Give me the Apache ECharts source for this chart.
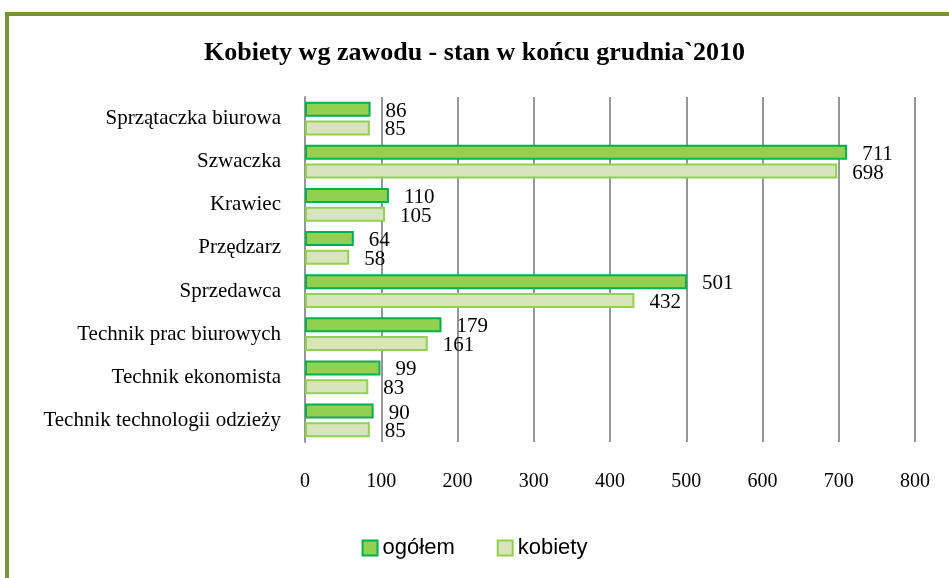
<!DOCTYPE html>
<html>
<head>
<meta charset="utf-8">
<script src="https://cdn.jsdelivr.net/npm/echarts@6/dist/echarts.min.js"></script>
<style>
  html, body { margin: 0; padding: 0; background: #fff; }
  #chart { width: 949px; height: 578px; }
</style>
</head>
<body>
<div id="chart"></div>
<script>
// zawody (kolejność od góry)
var categories = ['Sprzątaczka biurowa', 'Szwaczka', 'Krawiec', 'Przędzarz', 'Sprzedawca',
                  'Technik prac biurowych', 'Technik ekonomista', 'Technik technologii odzieży'];
var ogolem  = [86, 711, 110, 64, 501, 179, 99, 90];
var kobiety = [85, 698, 105, 58, 432, 161, 83, 85];
var xTicks  = [0, 800, 100]; // min, max, krok

var serif = 'Liberation Serif';
var chart = echarts.init(document.getElementById('chart'));

var labelCfg = {
    show: true,
    position: 'right',
    distance: 15,
    offset: [0, 2],
    color: '#000',
    fontFamily: serif,
    fontSize: 21
};

chart.setOption({
    animation: false,
    title: {
        text: 'Kobiety wg zawodu - stan w końcu grudnia`2010',
        left: 'center',
        top: 35,
        textStyle: { fontFamily: serif, fontSize: 26, fontWeight: 'bold', color: '#000' }
    },
    legend: {
        bottom: 14,
        left: 'center',
        icon: 'rect',
        itemWidth: 15,
        itemHeight: 15,
        itemGap: 42,
        textStyle: { fontFamily: 'Liberation Sans', fontSize: 22, color: '#000' },
        data: ['ogółem', 'kobiety']
    },
    grid: { left: 305, right: 34, top: 97, bottom: 136, containLabel: false },
    xAxis: {
        type: 'value',
        min: xTicks[0],
        max: xTicks[1],
        interval: xTicks[2],
        axisLine: { show: false },
        axisTick: { show: false },
        axisLabel: { margin: 30, color: '#000', fontFamily: serif, fontSize: 20 },
        splitLine: { show: true, lineStyle: { color: '#969696', width: 2 } }
    },
    yAxis: {
        type: 'category',
        inverse: true,
        data: categories,
        axisLine: { show: true, lineStyle: { color: '#969696', width: 2 } },
        axisTick: { show: false },
        axisLabel: { margin: 24, color: '#000', fontFamily: serif, fontSize: 21 }
    },
    graphic: [
        { type: 'rect', shape: { x: 5, y: 12, width: 944, height: 4 }, style: { fill: '#77933C' } },
        { type: 'rect', shape: { x: 5, y: 12, width: 4, height: 566 }, style: { fill: '#77933C' } }
    ],
    series: [
        {
            name: 'ogółem',
            type: 'bar',
            data: ogolem,
            barWidth: 15,
            barGap: '25%',
            itemStyle: { color: '#92D050', borderColor: '#00B050', borderWidth: 2, borderRadius: 0 },
            label: labelCfg
        },
        {
            name: 'kobiety',
            type: 'bar',
            data: kobiety,
            barWidth: 15,
            itemStyle: { color: '#D8E4BC', borderColor: '#92D050', borderWidth: 2, borderRadius: 0 },
            label: labelCfg
        }
    ]
});
</script>
</body>
</html>
